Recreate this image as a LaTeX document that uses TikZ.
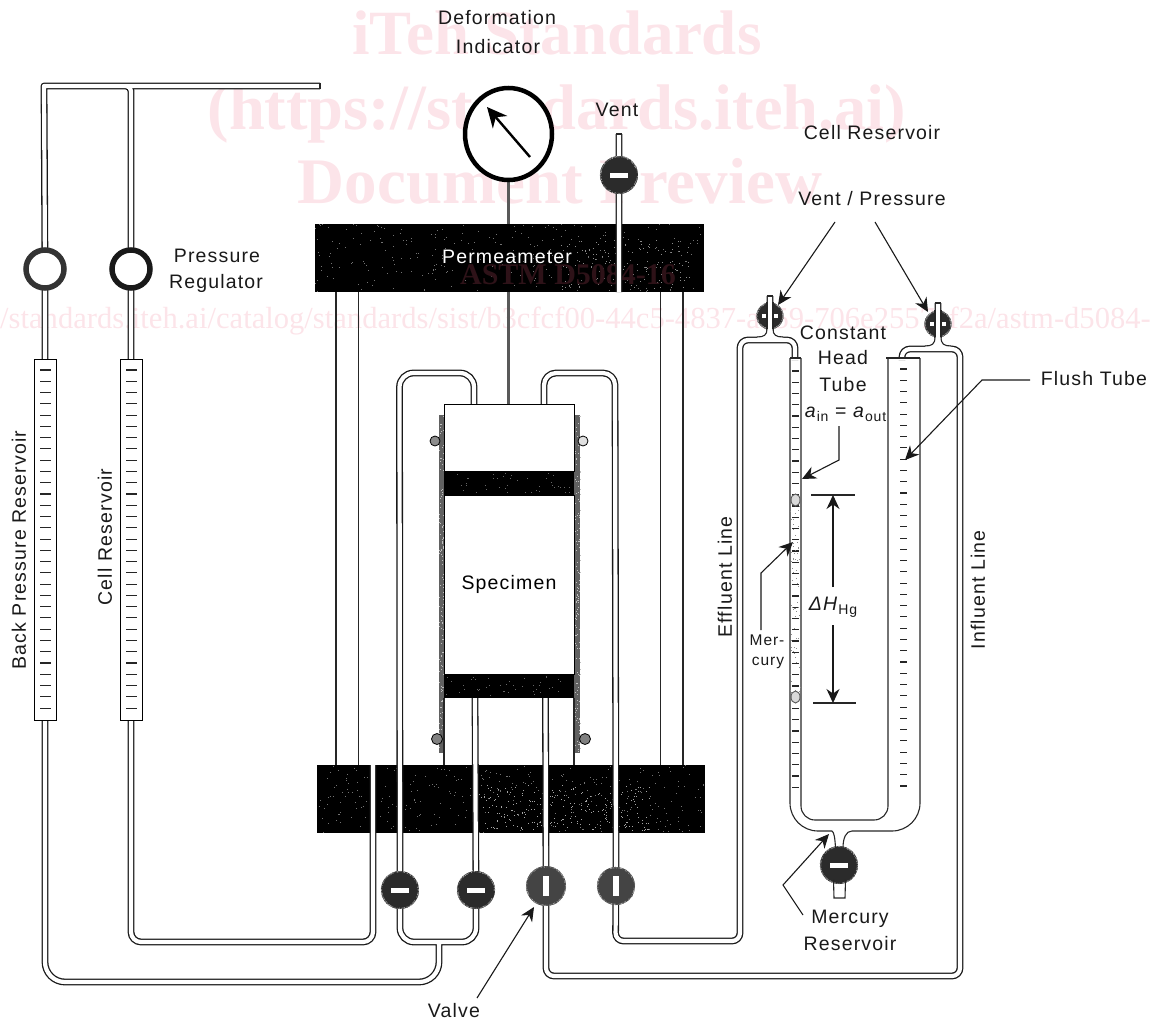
\documentclass[tikz,border=0pt]{standalone}
\usepackage{fontspec}
\setmainfont{Liberation Sans}
\newfontfamily\lab[LetterSpace=6]{Liberation Sans}
\newfontfamily\wm{Liberation Serif}
\usetikzlibrary{arrows.meta,shapes.geometric,calc}
\pgfdeclarelayer{back}
\pgfdeclarelayer{mid}
\pgfsetlayers{back,mid,main}
\definecolor{wmpink}{HTML}{FCE4E9}
\definecolor{wmdark}{HTML}{2E1218}
\definecolor{valvedark}{HTML}{2B2B2B}
\definecolor{valvegray}{HTML}{444444}
\tikzset{
  txt/.style={font=\fontsize{19.5}{22}\selectfont\lab,inner sep=0pt,text=black!90},
  wmark/.style={font=\fontsize{#1}{#1}\selectfont\wm\bfseries,text=wmpink,anchor=base,inner sep=0pt},
  block/.style={rectangle,fill=black,inner sep=0pt,outer sep=0pt},
  box/.style={rectangle,draw=black,line width=1pt,fill=white,inner sep=0pt,outer sep=0pt},
  ptr/.style={draw=black!90,line width=1.1pt,-{Stealth[length=14pt,width=13pt]}},
  thin line/.style={draw=black!85,line width=1.1pt},
  valvebody/.style={circle,inner sep=0pt,outer sep=0pt},
  slot/.style={rectangle,fill=white,inner sep=0pt,outer sep=0pt},
  tick/.style={draw=black!85,line width=1.1pt}
}
% speckle inside a rectangle
\newcommand{\speckrect}[6]{%
  \foreach \i in {1,...,#5}{%
    \pgfmathsetmacro\px{#1+rnd*#3}\pgfmathsetmacro\py{#2+rnd*#4}%
    \fill[#6] (\px,\py) rectangle +(1,1);}}
% speckle inside a circle
\newcommand{\speckcirc}[5]{%
  \foreach \i in {1,...,#4}{%
    \pgfmathsetmacro\pr{#3*sqrt(rnd)}\pgfmathsetmacro\pa{360*rnd}%
    \fill[#5] ($(#1,#2)+(\pa:\pr)$) circle (0.5);}}
% name, x, y, radius, fill, slot w, slot h
\newcommand{\valve}[7]{%
  \node[valvebody,fill=#5,minimum size=#4*2pt] (#1) at (#2,#3) {};
  \speckcirc{#2}{#3}{#4-1}{150}{black!60}
  \speckcirc{#2}{#3}{#4-1}{60}{black!35}
  \node[slot,minimum width=#6pt,minimum height=#7pt] (#1slot) at (#2,#3) {};}
% flare where a stub leaves a horizontal pipe: centre x, top of pipe y, height
\newcommand{\flare}[3]{%
  \fill[white] (#1-13,#2+1.8) -- (#1-13,#2) .. controls (#1-6,#2) and (#1-3,#2-2) .. (#1-3,#2-#3)
     -- (#1+3,#2-#3) .. controls (#1+3,#2-2) and (#1+6,#2) .. (#1+13,#2) -- (#1+13,#2+1.8) -- cycle;
  \draw[thin line] (#1-13,#2) .. controls (#1-6,#2) and (#1-3,#2-2) .. (#1-3,#2-#3);
  \draw[thin line] (#1+13,#2) .. controls (#1+6,#2) and (#1+3,#2-2) .. (#1+3,#2-#3);}
\newcommand{\subtxt}[1]{\raisebox{-4pt}{\fontsize{14}{14}\selectfont\lab #1}}
\begin{document}
\begin{tikzpicture}[x=1pt,y=-1pt]
\useasboundingbox (0,0) rectangle (1154,1020);
\pgfmathsetseed{11}

% ---------- watermark and heavy blocks ----------
\begin{pgfonlayer}{back}
\begin{scope}
\clip (0,0) rectangle (1154,1020);
\node[wmark=63] (wm1) at (557,54) {iTeh Standards};
\node[wmark=64.5] (wm2) at (557,129) {(https://standards.iteh.ai)};
\node[wmark=65] (wm3) at (560,203) {Document Preview};
\node[font=\fontsize{30.6}{30}\selectfont\wm,text=wmpink,anchor=base west,inner sep=0pt] (wm4) at (0,328)
  {/standards.iteh.ai/catalog/standards/sist/b3cfcf00-44c5-4837-aa59-706e2557af2a/astm-d5084-};
\end{scope}
\node[block,minimum width=389pt,minimum height=68pt] (topblock) at (509.5,258) {};
\node[block,minimum width=388pt,minimum height=68pt] (botblock) at (511,799) {};
\speckrect{315}{224}{388}{67}{260}{black!55}
\speckrect{560}{240}{130}{50}{150}{black!45}
\speckrect{317}{765}{387}{67}{330}{black!55}
\speckrect{470}{785}{180}{45}{240}{black!35}
\node[font=\fontsize{30}{30}\selectfont\wm\bfseries,text=wmdark,anchor=base,inner sep=0pt] (wm5) at (568,284) {ASTM D5084-16};
\end{pgfonlayer}

% ---------- specimen assembly ----------
\fill[black!62] (439,415) rectangle (445,753);
\fill[black!62] (574,415) rectangle (580,753);
\speckrect{439}{415}{5}{338}{140}{black!25}
\speckrect{575}{415}{5}{338}{140}{black!25}
\node[box,minimum width=130pt,minimum height=67pt] (topcap) at (509,437.5) {};
\node[block,minimum width=130pt,minimum height=24pt] (topstone) at (509,483) {};
\node[box,minimum width=130pt,minimum height=179pt,font=\fontsize{19.5}{22}\selectfont\lab] (specimen) at (509,584.5) {Specimen};
\node[block,minimum width=130pt,minimum height=24pt] (botstone) at (509,686) {};
\speckrect{446}{473}{126}{20}{40}{black!60}
\speckrect{446}{676}{126}{20}{40}{black!60}
\draw[thin line] (botstone.south west) -- (botstone.south west |- botblock.north);
\draw[thin line] (botstone.south east) -- (botstone.south east |- botblock.north);
% O-rings
\node[circle,draw=black,fill=black!45,line width=0.8pt,minimum size=10pt,inner sep=0pt] (ring1) at (435,441) {};
\node[circle,draw=black,fill=black!12,line width=0.8pt,minimum size=10pt,inner sep=0pt] (ring2) at (583,441) {};
\node[circle,draw=black,fill=black!50,line width=0.8pt,minimum size=11pt,inner sep=0pt] (ring3) at (437,739) {};
\node[circle,draw=black,fill=black!50,line width=0.8pt,minimum size=11pt,inner sep=0pt] (ring4) at (585,739) {};

% ---------- regulators and reservoirs ----------
\node[circle,draw=black!80,fill=white,line width=5.5pt,minimum size=38pt,inner sep=0pt] (reg1) at (45,269) {};
\node[circle,draw=black!90,fill=white,line width=5.5pt,minimum size=38pt,inner sep=0pt] (reg2) at (131,269) {};
\node[box,minimum width=22pt,minimum height=361pt] (res1) at (45,539.5) {};
\node[box,minimum width=22pt,minimum height=361pt] (res2) at (131,539.5) {};
\foreach \i in {0,...,30}{
  \pgfmathsetmacro\ty{370+\i*11.27}
  \draw[tick] (40,\ty) -- (51,\ty);
  \draw[tick] (126,\ty) -- (137,\ty);
}

% ---------- valves ----------
\valve{v1}{400}{890}{19}{valvedark}{18}{5}
\valve{v2}{476}{890}{19}{valvedark}{18}{5}
\valve{v3}{546}{886}{20}{valvegray}{5.5}{20}
\valve{v4}{616}{886}{19}{valvegray}{5.5}{20}
\valve{vent}{619}{175}{19}{valvedark}{18}{5}
\valve{vm}{839}{865}{19}{valvedark}{18}{5}
\valve{vl}{770}{316}{13.5}{valvedark}{16}{4}
\valve{vr}{938}{324}{13.5}{valvedark}{16}{4}
\node[slot,minimum width=5pt,minimum height=28pt] (vlstem) at (770,316) {};
\node[slot,minimum width=5pt,minimum height=28pt] (vrstem) at (938,324) {};
\draw[thin line] (767,302) -- (767,330) (773,302) -- (773,330);
\draw[thin line] (935,310) -- (935,338) (941,310) -- (941,338);
\flare{770}{337}{8}
\flare{938}{346}{9}

% ---------- gauge ----------
\node[ellipse,draw=black,line width=4.5pt,fill=white,minimum width=87pt,minimum height=92pt,inner sep=0pt] (gauge) at (508.5,134) {};
\coordinate (ntail) at (530,157);
\coordinate (ntip) at (487,107);
\draw[draw=black,line width=2.4pt,-{Stealth[length=20pt,width=19pt]}] (ntail) -- (ntip);

% ---------- pipes (two passes give clean open junctions) ----------
\newcommand{\pipes}{
  (320,86) -- (44,86) [rounded corners=0pt] -- (reg1.center)
  (reg1.center) -- (res1.north)
  [rounded corners=5pt] (100,86) -- (131,86) -- (reg2.center)
  (reg2.center) -- (res2.north)
  [rounded corners=20pt] (res1.south) -- (45,982) -- (439,982) -- (439,942)
  [rounded corners=10pt] (res2.south) -- (131,942) -- (373,942) -- (373,765)
  [rounded corners=14pt] (v1.center) -- (400,942) -- (476,942) -- (v2.center)
  [rounded corners=14pt] (v1.center) -- (399.5,373) -- (474,373) -- (474,471)
  [rounded corners=12pt] (544,471) -- (544,373) -- (615,373) -- (v4.center)
  (475,698) -- (v2.center)
  (545.5,698) -- (v3.center)
  [rounded corners=8pt] (v3.center) -- (546,976) -- (960,976) -- (960,349) -- (902,349) -- (902,360)
  [rounded corners=8pt] (v4.center) -- (615.5,941) -- (740,941) -- (740,340) -- (795,340) -- (795,360)
  [rounded corners=0pt] (770,342) -- (vl.center) -- (770,296)
  (938,351) -- (vr.center) -- (938,303)
  (vent.center) -- (619,134)
  (vent.center) -- (619,292)
}
\begin{pgfonlayer}{mid}
\draw[black!90,line width=6.8pt,line join=round] \pipes;
\draw[white,line width=4.2pt,line join=round] \pipes;
% closed ends
\draw[thin line] (320,83) -- (320,89);
\draw[thin line] (615.8,134) -- (622.2,134);
\draw[thin line] (766.6,296) -- (773.4,296);
\draw[thin line] (934.6,303) -- (941.4,303);
% cell tubes between the two blocks
\draw[thin line] (336,292) -- (336,765);
\draw[thin line] (358.5,292) -- (358.5,765);
\draw[thin line] (660.5,292) -- (660.5,765);
\draw[thin line] (683,292) -- (683,765);
% gauge stem and piston rod
\draw[black!65,line width=2.8pt] (gauge.south) -- (topblock.north -| gauge.south);
\draw[black!65,line width=2.8pt] (topblock.south -| gauge.south) -- (topcap.north -| gauge.south);
\end{pgfonlayer}

% ---------- U-tube manometer ----------
\fill[white] (790,358) rectangle (801,360);
\fill[white] (886,358) rectangle (920,360);
\draw[thin line] (790,358) -- (801,358);
\draw[thin line] (886,358) -- (920,358);
\draw[thin line,rounded corners=28pt] (790,358) -- (790,831) -- (832,831);
\draw[thin line] (832,831) .. controls (834,832) and (835,838) .. (835.5,848);
\draw[thin line,rounded corners=14pt] (801,358) -- (801,820) -- (888,820) -- (888,358);
\draw[thin line] (843,848) .. controls (843,838) and (846,831) .. (852,831);
\draw[thin line,rounded corners=28pt] (852,831) -- (920,831) -- (920,358);
\draw[thin line] (833.5,880) -- (834,898) -- (845,898) -- (845.5,880);
\foreach \i in {0,...,37}{
  \pgfmathsetmacro\ty{371+\i*11.25}
  \draw[tick] (792,\ty) -- (799,\ty);
  \pgfmathsetmacro\tz{369+\i*11.27}
  \draw[tick] (900,\tz) -- (907,\tz);
}
% mercury column
\draw[black!55,line width=1.6pt] (790,496) -- (790,702) (801,496) -- (801,702);
\speckrect{790}{496}{11}{205}{70}{black!45}
\node[ellipse,draw=black!65,line width=0.9pt,fill=black!15,minimum width=9pt,minimum height=12pt,inner sep=0pt] (hgtop) at (795.5,500) {};
\node[ellipse,draw=black!65,line width=0.9pt,fill=black!15,minimum width=9pt,minimum height=12pt,inner sep=0pt] (hgbot) at (795.5,697) {};

% ---------- labels ----------
\node[txt] (tdef) at (497,18) {Deformation};
\node[txt] (tind) at (498,47) {Indicator};
\node[txt] (tvent) at (617,110) {Vent};
\node[txt] (tcell) at (872,133) {Cell Reservoir};
\node[txt] (tvp) at (872,199) {Vent / Pressure};
\node[txt,anchor=center] (tpr1) at (217,256) {Pressure};
\node[txt,anchor=center] (tpr2) at (216,283) {Regulator};
\node[txt,text=white] (tperm) at (507,257) {Permeameter};
\node[txt] (tcon) at (843,333) {Constant};
\node[txt] (thead) at (843,358) {Head};
\node[txt] (ttube) at (843,385) {Tube};
\node[txt] (taio) at (845.5,414) {\textit{a}\subtxt{in} = \textit{a}\subtxt{out}};
\node[txt] (tflush) at (1094,379) {Flush Tube};
\node[txt,rotate=90] (tback) at (19,550) {Back Pressure Reservoir};
\node[txt,rotate=90] (tcr) at (105,537) {Cell Reservoir};
\node[txt,rotate=90] (teff) at (725,577) {Effluent Line};
\node[txt,rotate=90] (tinf) at (978,590) {Influent Line};
\node[txt,font=\fontsize{15.5}{18}\selectfont\lab] (tmer1) at (767,640) {Mer-};
\node[txt,font=\fontsize{15.5}{18}\selectfont\lab] (tmer2) at (768,663) {cury};
\node[txt] (tdh) at (833,607) {\textit{ΔH}\subtxt{Hg}};
\node[txt] (tm1) at (850,919) {Mercury};
\node[txt] (tm2) at (850,944) {Reservoir};
\node[txt] (tvalve) at (454,1011) {Valve};

% ---------- pointers ----------
\coordinate (pvl) at (778,305);
\coordinate (pvr) at (928,312);
\coordinate (pvs1) at (835,222);
\coordinate (pvs2) at (875,222);
\draw[ptr] (pvs1) -- (pvl);
\draw[ptr] (pvs2) -- (pvr);
\coordinate (pa1) at (839,426); \coordinate (pa2) at (839,460); \coordinate (pa3) at (802,479);
\draw[ptr] (pa1) -- (pa2) -- (pa3);
\coordinate (pf1) at (1030,380); \coordinate (pf2) at (982,380); \coordinate (pf3) at (905,460);
\draw[ptr] (pf1) -- (pf2) -- (pf3);
\coordinate (pm1) at (761,630); \coordinate (pm2) at (761,573); \coordinate (pm3) at (793,542);
\draw[ptr] (pm1) -- (pm2) -- (pm3);
\coordinate (pr1) at (803,915); \coordinate (pr2) at (783,885); \coordinate (pr3) at (829,834);
\draw[ptr] (pr1) -- (pr2) -- (pr3);
\coordinate (pv1) at (477,998); \coordinate (pv2) at (534,907);
\draw[ptr] (pv1) -- (pv2);
% head difference
\coordinate (dh1l) at (811,495); \coordinate (dh1r) at (855,495);
\coordinate (dh2l) at (813,703); \coordinate (dh2r) at (856,703);
\draw[thin line] (dh1l) -- (dh1r);
\draw[thin line] (dh2l) -- (dh2r);
\coordinate (dha) at (833,587); \coordinate (dhat) at (833,495);
\coordinate (dhb) at (833,625); \coordinate (dhbt) at (833,703);
\draw[ptr] (dha) -- (dhat);
\draw[ptr] (dhb) -- (dhbt);
\end{tikzpicture}
\end{document}
